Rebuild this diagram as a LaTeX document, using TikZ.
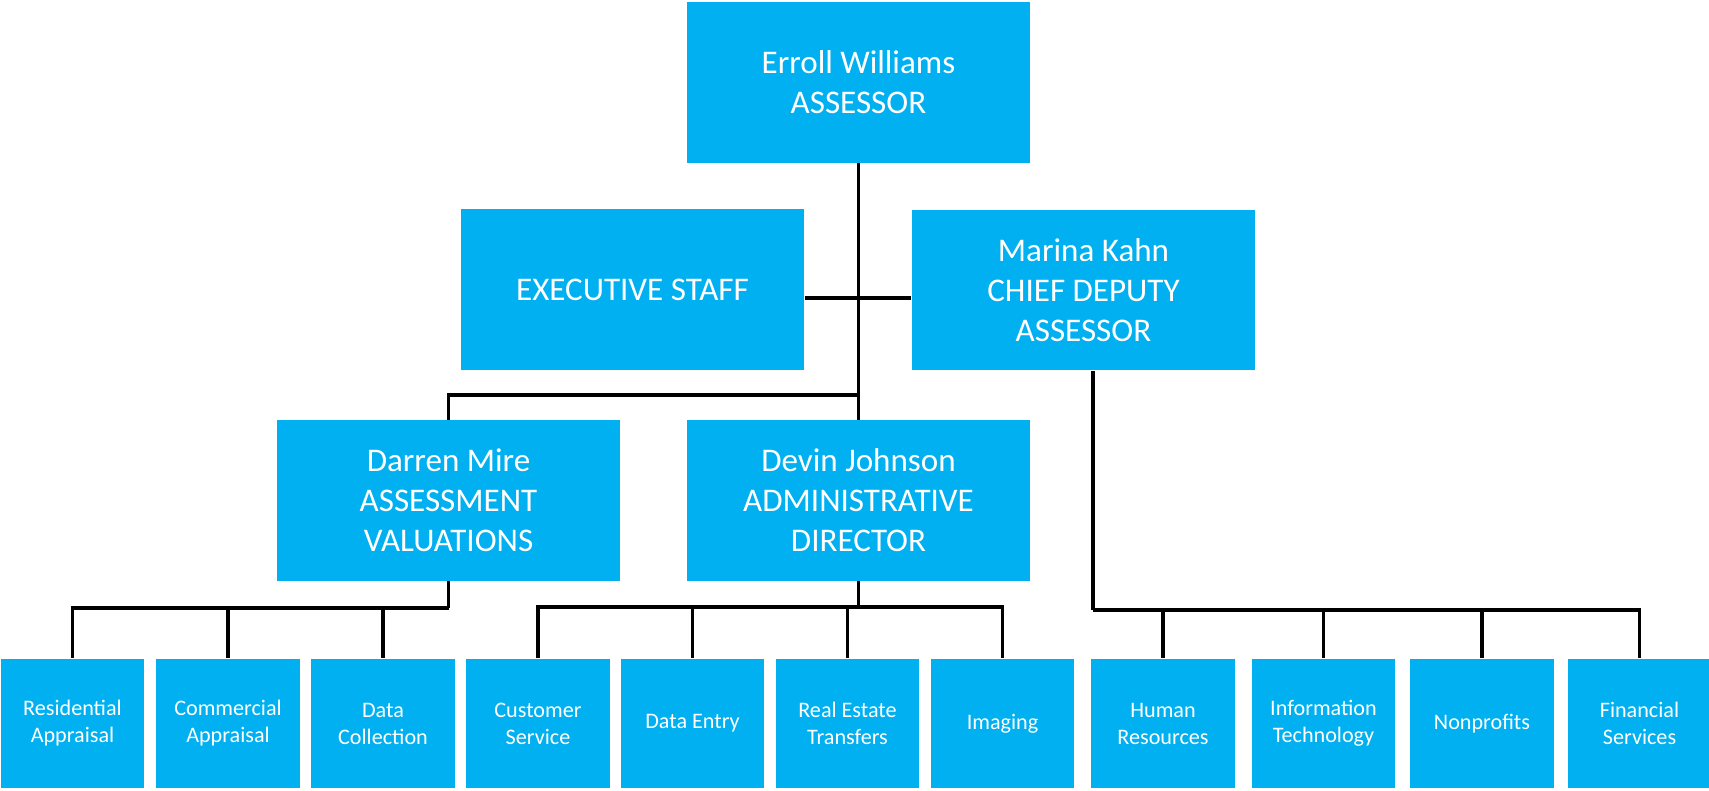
\documentclass[tikz,border=0pt]{standalone}
\usepackage{fontspec}
\setmainfont{Carlito}

\definecolor{boxblue}{RGB}{0,176,240}

\begin{document}
\begin{tikzpicture}[x=0.01cm,y=-0.01cm,
    big/.style={fill=boxblue,text=white,align=center,inner sep=0pt,
        minimum width=3.43cm,minimum height=1.60cm,
        font=\fontsize{9.4}{11.4}\selectfont},
    small/.style={fill=boxblue,text=white,align=center,inner sep=0pt,
        minimum width=1.43cm,minimum height=1.29cm,
        font=\fontsize{6.3}{7.7}\selectfont},
    link/.style={draw,line width=0.9pt}]

\useasboundingbox (0,0) rectangle (1709,790);

\node [big] (assessor) at (858.5,82.5) {Erroll Williams\\ASSESSOR};
\node [big] (staff) at (632.5,289.5) {EXECUTIVE STAFF};
\node [big] (deputy) at (1083.5,290) {Marina Kahn\\CHIEF DEPUTY\\ASSESSOR};
\node [big] (valuations) at (448.5,500.5) {Darren Mire\\ASSESSMENT\\VALUATIONS};
\node [big] (director) at (858.5,500.5) {Devin Johnson\\ADMINISTRATIVE\\DIRECTOR};

% bottom row
\node [small] (res) at (72.5,723.5) {Residential\\Appraisal};
\node [small] (com) at (228,723.5) {Commercial\\Appraisal};
\node [small] (coll) at (383,723.5) {Data\\Collection};
\node [small] (cust) at (538,723.5) {Customer\\Service};
\node [small] (entry) at (692.5,723.5) {Data Entry};
\node [small] (transfers) at (847.5,723.5) {Real Estate\\Transfers};
\node [small] (imaging) at (1002.5,723.5) {Imaging};
\node [small] (hr) at (1163,723.5) {Human\\Resources};
\node [small] (it) at (1323.5,723.5) {Information\\Technology};
\node [small] (nonprofit) at (1482,723.5) {Nonprofits};
\node [small] (finance) at (1639.5,723.5) {Financial\\Services};

\coordinate (split) at (858.5,298);
\coordinate (bus1) at (858.5,395);
\coordinate (bus2) at (448.5,608);
\coordinate (bus3) at (858.5,607);
\coordinate (bus4) at (1093,610);

\path [link]
    (assessor.south) -- (director.north)
    (split -| staff.east) -- (split -| deputy.west)
    (bus1) -| (valuations.north)
;

\path [link]
    (valuations.south) -- (bus2)
    (bus2) -| (res.north)
    (bus2) -| (com.north)
    (bus2) -| (coll.north)
;

\path [link]
    (director.south) -- (bus3)
    (bus3) -| (cust.north)
    (bus3) -| (entry.north)
    (bus3) -| (transfers.north)
    (bus3) -| (imaging.north)
;

\path [link]
    (bus4 |- deputy.south) -- (bus4)
    (bus4) -| (hr.north)
    (bus4) -| (it.north)
    (bus4) -| (nonprofit.north)
    (bus4) -| (finance.north)
;

\end{tikzpicture}
\end{document}
